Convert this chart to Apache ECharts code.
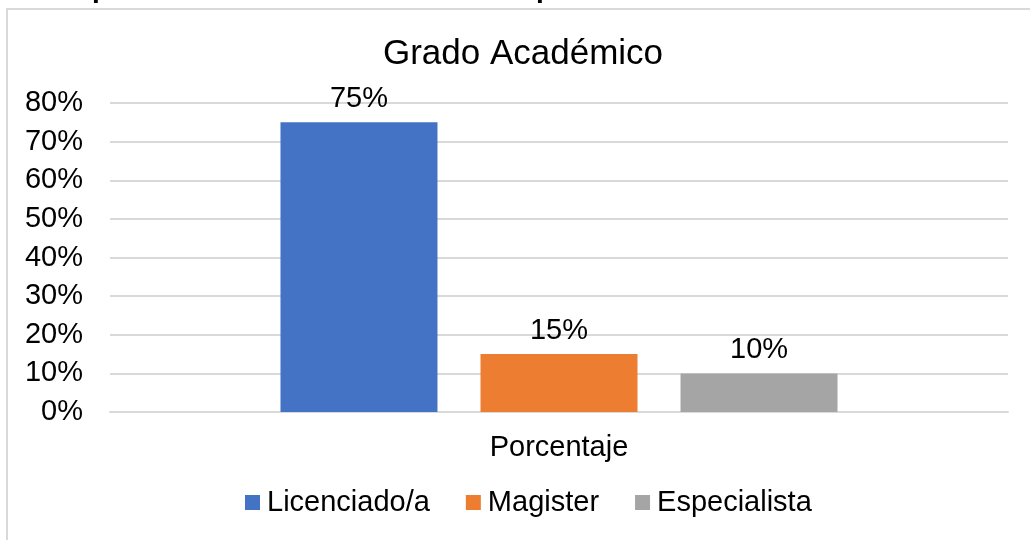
<!DOCTYPE html>
<html>
<head>
<meta charset="utf-8">
<script src="https://cdn.jsdelivr.net/npm/echarts@6/dist/echarts.min.js"></script>
<style>
  html, body { margin: 0; padding: 0; background: #fff; }
  #main { width: 1030px; height: 540px; }
</style>
</head>
<body>
<div id="main"></div>
<script>
// datos
var categorias = ['Porcentaje'];
var series = ['Licenciado/a', 'Magister', 'Especialista'];
var valores = [0.75, 0.15, 0.10];
var colores = ['#4472C4', '#ED7D31', '#A5A5A5'];

var font = '"Liberation Sans", Arial, sans-serif';
var chart = echarts.init(document.getElementById('main'));

var pct = function (v) { return Math.round(v * 100) + '%'; };

var seriesArr = series.map(function (name, i) {
    return {
        name: name,
        type: 'bar',
        data: [valores[i]],
        barWidth: 157,
        barGap: '27.4%',
        itemStyle: { color: colores[i] },
        label: {
            show: true,
            position: 'top',
            distance: 9,
            fontFamily: font,
            fontSize: 29,
            color: '#000',
            formatter: function (p) { return pct(p.value); }
        }
    };
});

chart.setOption({
    animation: false,
    textStyle: { fontFamily: font },
    title: {
        text: 'Grado Académico',
        left: 523,
        textAlign: 'center',
        top: 37,
        padding: 0,
        textStyle: { fontFamily: font, fontSize: 35, fontWeight: 'normal', color: '#000' }
    },
    legend: {
        data: series,
        left: 245,
        top: 488,
        padding: 0,
        icon: 'rect',
        itemWidth: 15,
        itemHeight: 15,
        itemGap: 36,
        textStyle: { fontFamily: font, fontSize: 29, color: '#000', padding: [0, 0, 0, 2] }
    },
    grid: { left: 110, right: 22, top: 103, bottom: 128 },
    xAxis: {
        type: 'category',
        data: categorias,
        axisLine: { lineStyle: { color: '#d9d9d9', width: 2 } },
        axisTick: { show: false },
        axisLabel: { fontFamily: font, fontSize: 29, color: '#000', margin: 21 }
    },
    yAxis: {
        type: 'value',
        min: 0,
        max: 0.8,
        interval: 0.1,
        axisLine: { show: false },
        axisTick: { show: false },
        splitLine: { lineStyle: { color: '#d9d9d9', width: 2 } },
        axisLabel: { fontFamily: font, fontSize: 29, color: '#000', margin: 27, formatter: pct }
    },
    graphic: [
        {
            type: 'rect',
            shape: { x: 7, y: 9, width: 1060, height: 600 },
            style: { fill: 'none', stroke: '#d9d9d9', lineWidth: 2 },
            silent: true
        },
        // encabezado recortado arriba
        {
            type: 'text', left: 92, top: -25,
            style: { text: 'p', font: 'bold 28px ' + font, fill: '#000' }
        },
        {
            type: 'text', left: 536, top: -25,
            style: { text: 'p', font: 'bold 28px ' + font, fill: '#000' }
        }
    ],
    series: seriesArr
});
</script>
</body>
</html>
